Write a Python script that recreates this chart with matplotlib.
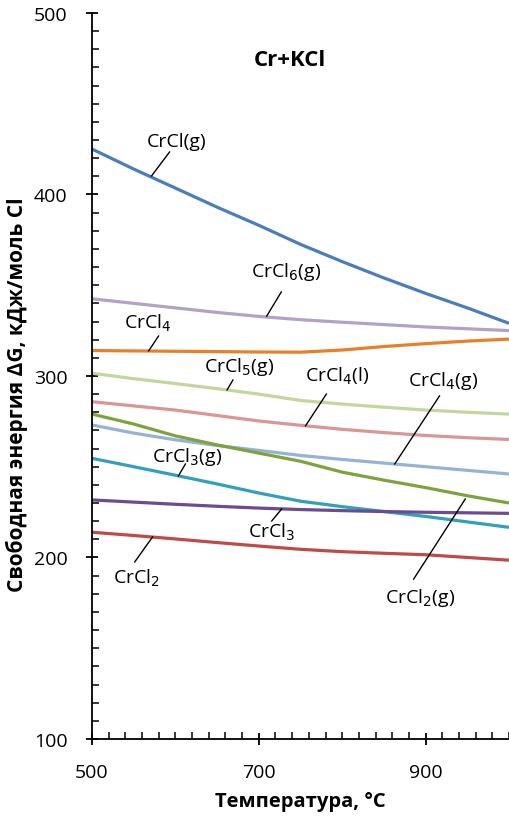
import numpy as np
import matplotlib
matplotlib.use('Agg')
import matplotlib.pyplot as plt
from matplotlib.ticker import MultipleLocator, FixedLocator

plt.rcParams['font.family'] = ['Open Sans', 'DejaVu Sans']

# температура, °C
temps = [500, 550, 600, 650, 700, 750, 800, 850, 900, 950, 1000]

# ΔG, кДж/моль Cl
crcl_g  = [425, 414, 403.5, 393, 383, 372.5, 363, 354, 345.5, 337.5, 329]
crcl6_g = [342.5, 340, 337.5, 335, 332.8, 331, 329.6, 328.3, 327, 326, 325]
crcl4   = [314, 313.8, 313.6, 313.4, 313.2, 313.1, 314.3, 316.2, 317.8, 319.2, 320.3]
crcl5_g = [301.5, 298.5, 295.8, 293, 290, 286.5, 284.5, 282.8, 281.2, 280, 279]
crcl4_l = [285.8, 283.5, 281.2, 278.2, 275.2, 272.8, 270.6, 268.8, 267.2, 266, 265]
crcl4_g = [273, 268.5, 264.8, 261.7, 259, 256.2, 254, 252, 250, 248, 246]
crcl2_g = [279, 273.5, 267, 262, 257.5, 253, 247, 242.6, 238.5, 234, 230]
crcl3_g = [254.6, 250, 245.3, 240.5, 235.5, 231, 228, 225.3, 222.6, 219.6, 216.6]
crcl3   = [231.7, 230.5, 229.3, 228.2, 227.2, 226.4, 225.8, 225.3, 224.9, 224.6, 224.3]
crcl2   = [213.9, 212.1, 210.2, 208.2, 206.3, 204.5, 203.2, 202.3, 201.5, 200, 198.5]

series = [
    (crcl_g,  '#4A7EBB'),
    (crcl6_g, '#B3A2C7'),
    (crcl4,   '#E8802A'),
    (crcl5_g, '#C3D69B'),
    (crcl4_l, '#D99694'),
    (crcl4_g, '#95B3D7'),
    (crcl2_g, '#7FA33B'),
    (crcl3_g, '#31A0BF'),
    (crcl3,   '#6A4C93'),
    (crcl2,   '#BE4B48'),
]

# подписи: текст, позиция текста, выноска (от, до)
labels = [
    ('CrCl(g)',     (601, 429.5), (593, 423.4), (571.4, 410.2)),
    ('CrCl$_6$(g)', (733, 357.8), (727, 346.3), (709.5, 333)),
    ('CrCl$_4$',    (566.7, 329.7), (579.8, 322), (567.9, 313.8)),
    ('CrCl$_5$(g)', (677, 305.5), (669, 297.8), (662, 292.3)),
    ('CrCl$_4$(l)', (794, 300.5), (781, 290), (756, 272.5)),
    ('CrCl$_4$(g)', (921, 297.8), (916.7, 289), (863, 251.5)),
    ('CrCl$_3$(g)', (614, 256), (612, 251.5), (603.6, 244.9)),
    ('CrCl$_3$',    (715.5, 214.6), (727.4, 226.7), (715.5, 220.1)),
    ('CrCl$_2$',    (553.6, 189), (572.6, 211.3), (551.2, 197.5)),
    ('CrCl$_2$(g)', (893, 178), (947.6, 232.2), (885.7, 188.1)),
]

fig = plt.figure(figsize=(5.1, 8.2), dpi=100)
ax = fig.add_axes([0.1804, 0.0976, 0.8176, 0.8854])

for vals, col in series:
    ax.plot(temps, vals, color=col, lw=2.3, solid_capstyle='butt')

for txt, pos, p1, p2 in labels:
    ax.plot([p1[0], p2[0]], [p1[1], p2[1]], color='black', lw=1.0)
    ax.text(pos[0], pos[1], txt, fontsize=14, ha='center', va='center')

ax.text(737, 474.6, 'Cr+KCl', fontsize=16, fontweight='bold', ha='center', va='center')

ax.set_xlim(500, 1000)
ax.set_ylim(100, 500)
ax.xaxis.set_major_locator(FixedLocator([500, 700, 900]))
ax.xaxis.set_minor_locator(MultipleLocator(20))
ax.yaxis.set_major_locator(MultipleLocator(100))
ax.yaxis.set_minor_locator(MultipleLocator(10))

for s in ['top', 'right']:
    ax.spines[s].set_visible(False)
for s in ['left', 'bottom']:
    ax.spines[s].set_linewidth(1.3)

ax.tick_params(which='major', direction='inout', length=9, width=1.3, labelsize=14, pad=13)
ax.tick_params(which='minor', direction='in', length=5, width=1.1)

ax.set_xlabel('Температура, °C', fontsize=14.5, fontweight='bold', labelpad=7)
ax.set_ylabel('Свободная энергия ΔG, кДж/моль Cl', fontsize=15, fontweight='bold')
ax.yaxis.set_label_coords(-0.153, 0.475)

fig.savefig('out.png', dpi=100)
